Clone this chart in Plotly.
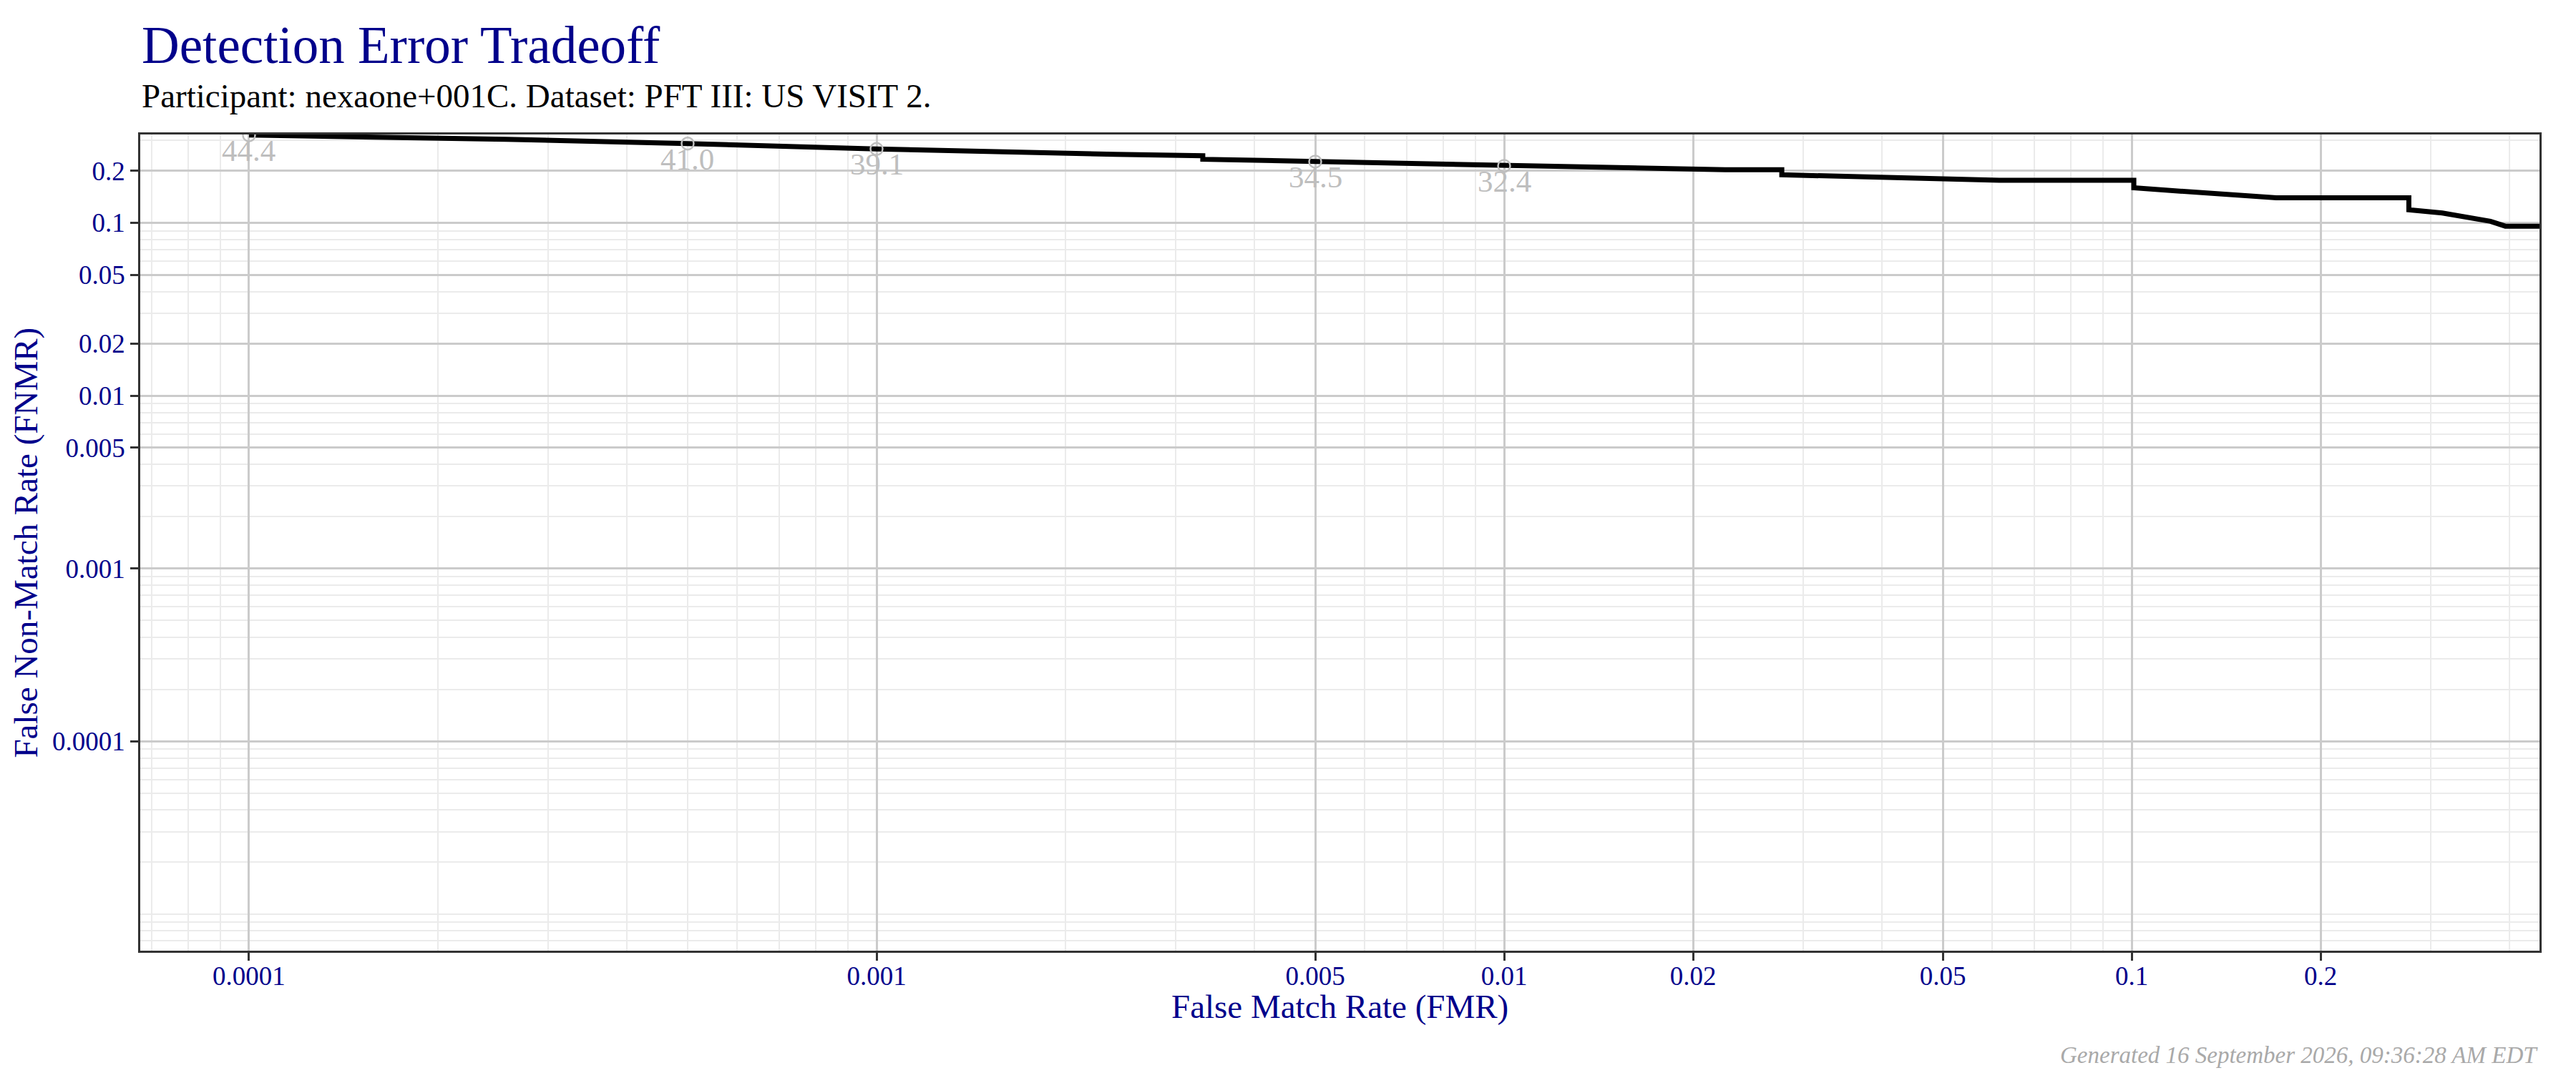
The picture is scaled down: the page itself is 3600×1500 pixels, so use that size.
import math
import plotly.graph_objects as go

# DET curve (FMR on x, FNMR on y)
fmr = [0.0001, 0.000257, 0.0005, 0.001, 0.0024, 0.00331, 0.00331,
       0.005, 0.01, 0.0116, 0.02, 0.0225, 0.0277, 0.0277, 0.0615, 0.1008,
       0.1008, 0.132, 0.170, 0.2765, 0.2765, 0.3126, 0.349, 0.373, 0.394, 0.46]
fnmr = [0.322, 0.3045, 0.2877, 0.2675, 0.249, 0.2446, 0.2333,
        0.226, 0.2136, 0.2122, 0.2037, 0.2030, 0.2030, 0.1897, 0.1764, 0.1764,
        0.1594, 0.1495, 0.1395, 0.1395, 0.119, 0.1141, 0.1071, 0.1021, 0.0957, 0.0955]

# threshold markers
thr_fmr = [0.0001, 0.0005, 0.001, 0.005, 0.01]
thr_fnmr = [0.321, 0.2877, 0.2675, 0.226, 0.2136]
thr_label = ["44.4", "41.0", "39.1", "34.5", "32.4"]

x_ticks = [0.0001, 0.001, 0.005, 0.01, 0.02, 0.05, 0.1, 0.2]
x_ticktext = ["0.0001", "0.001", "0.005", "0.01", "0.02", "0.05", "0.1", "0.2"]
y_ticks = [0.2, 0.1, 0.05, 0.02, 0.01, 0.005, 0.001, 0.0001]
y_ticktext = ["0.2", "0.1", "0.05", "0.02", "0.01", "0.005", "0.001", "0.0001"]

title = "Detection Error Tradeoff"
subtitle = "Participant: nexaone+001C. Dataset: PFT III: US VISIT 2."
x_title = "False Match Rate (FMR)"
y_title = "False Non-Match Rate (FNMR)"
footer = "Generated 16 September 2026, 09:36:28 AM EDT"

FONT = "Liberation Serif"
BLUE = "#00008B"
GREY = "#bebebe"

minor_vals = [m * 10.0 ** e for e in range(-7, 1) for m in range(1, 10)]

fig = go.Figure()
fig.add_trace(go.Scatter(x=fmr, y=fnmr, mode="lines",
                         line=dict(color="black", width=7), showlegend=False))
fig.add_trace(go.Scatter(x=thr_fmr, y=thr_fnmr, mode="markers",
                         marker=dict(symbol="circle-open", size=17, color=GREY,
                                     line=dict(width=2.5, color=GREY)),
                         showlegend=False))

# threshold labels just under each marker
for fx, fy, lab in zip(thr_fmr, thr_fnmr, thr_label):
    fig.add_annotation(x=math.log10(fx), y=math.log10(fy), text=lab,
                       xref="x", yref="y", showarrow=False,
                       xanchor="center", yanchor="top", yshift=4,
                       font=dict(family=FONT, size=43, color=GREY))

axis_common = dict(
    type="log",
    showline=True, mirror=True, linecolor="#333333", linewidth=2.5,
    ticks="outside", ticklen=11, tickwidth=3, tickcolor="#333333",
    showgrid=True, gridcolor="#cbcbcb", gridwidth=2.5,
    zeroline=False,
    tickfont=dict(family=FONT, size=37, color=BLUE),
    minor=dict(tickmode="array", tickvals=minor_vals, showgrid=True,
               gridcolor="#ebebeb", gridwidth=1.5, ticks=""),
)

fig.update_xaxes(**axis_common, range=[-4.1733, -0.3501], ticklabelstandoff=-10,
                 tickmode="array", tickvals=x_ticks, ticktext=x_ticktext)
fig.update_yaxes(**axis_common, range=[-5.2116, -0.4887],
                 tickmode="array", tickvals=y_ticks, ticktext=y_ticktext)

fig.add_annotation(text=title, xref="paper", yref="paper", x=0, y=1.0723,
                   xanchor="left", yanchor="bottom", showarrow=False,
                   font=dict(family=FONT, size=73, color=BLUE))
fig.add_annotation(text=subtitle, xref="paper", yref="paper", x=0, y=1.0228,
                   xanchor="left", yanchor="bottom", showarrow=False,
                   font=dict(family=FONT, size=47, color="black"))
fig.add_annotation(text=x_title, xref="paper", yref="paper", x=0.5, y=-0.093,
                   xanchor="center", yanchor="bottom", showarrow=False,
                   font=dict(family=FONT, size=47, color=BLUE))
fig.add_annotation(text=y_title, xref="paper", yref="paper", x=-0.048, y=0.5,
                   xanchor="center", yanchor="middle", textangle=-90, showarrow=False,
                   font=dict(family=FONT, size=47, color=BLUE))
fig.add_annotation(text="<i>" + footer + "</i>", xref="paper", yref="paper", x=1, y=-0.1455,
                   xanchor="right", yanchor="bottom", showarrow=False,
                   font=dict(family=FONT, size=33, color="#a9a9a9"))

fig.update_layout(
    width=3600, height=1500,
    margin=dict(l=188, r=59, t=180, b=179),
    paper_bgcolor="white", plot_bgcolor="white",
)

fig.write_html("out.html")
